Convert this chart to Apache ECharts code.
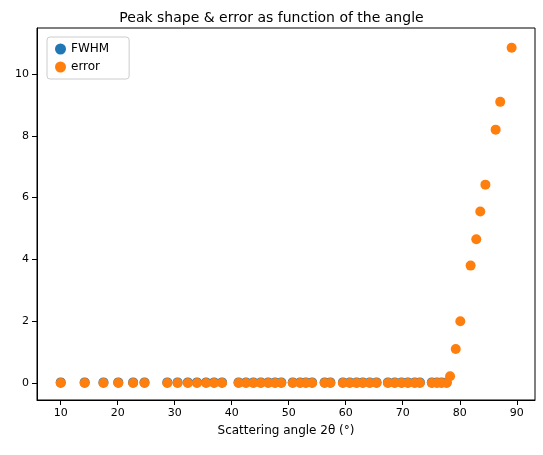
<!DOCTYPE html><html><head><meta charset="utf-8"><script src="https://cdn.jsdelivr.net/npm/echarts@6/dist/echarts.min.js"></script></head><body style="margin:0"><div id="c" style="width:543px;height:455px"></div><script>
const angles=[10.0,14.2,17.5,20.1,22.7,24.7,28.7,30.5,32.3,33.9,35.5,36.9,38.3,41.2,42.5,43.8,45.1,46.4,47.6,48.7,50.7,52.0,53.0,54.1,56.3,57.3,59.5,60.7,61.9,63.0,64.2,65.4,67.4,68.6,69.8,70.9,72.1,73.0,75.1,76.0,76.8,77.7,78.3,79.3,80.1,81.9,82.9,83.6,84.5,86.3,87.1,89.1];
const errorVals=[0,0,0,0,0,0,0,0,0,0,0,0,0,0,0,0,0,0,0,0,0,0,0,0,0,0,0,0,0,0,0,0,0,0,0,0,0,0,0,0,0,0,0.22,1.1,2.0,3.8,4.65,5.55,6.42,8.2,9.1,10.85];
const fwhmVals=angles.slice(0,42).map(()=>0.02);
const ch=echarts.init(document.getElementById('c'));
const F='DejaVu Sans';
ch.setOption({animation:false,textStyle:{fontFamily:F},
title:{text:'Peak shape & error as function of the angle',left:'center',top:6,textStyle:{fontFamily:F,fontSize:14,fontWeight:'normal',color:'#000'}},
legend:{left:47,top:37,orient:'vertical',itemGap:6,borderColor:'#ccc',borderWidth:1,borderRadius:3,padding:[6,20,6,8],itemWidth:11,itemHeight:11,textStyle:{fontFamily:F,fontSize:12,color:'#000'},data:['FWHM','error']},
grid:{left:37,right:8,top:28,bottom:55,show:true,borderColor:'#000',borderWidth:1,backgroundColor:'transparent'},
xAxis:{type:'value',min:5.84,max:93.2,interval:10,name:'Scattering angle 2θ (°)',nameLocation:'middle',nameGap:25,nameTextStyle:{fontFamily:F,fontSize:12,color:'#000'},
axisLine:{onZero:false,lineStyle:{color:'#000'}},axisLabel:{color:'#000',fontSize:11,customValues:[10,20,30,40,50,60,70,80,90]},axisTick:{customValues:[10,20,30,40,50,60,70,80,90],lineStyle:{color:'#000'}},splitLine:{show:false}},
yAxis:{type:'value',min:-0.55,max:11.49,axisLine:{show:true,lineStyle:{color:'#000'}},axisTick:{show:true,customValues:[0,2,4,6,8,10],lineStyle:{color:'#000'}},axisLabel:{color:'#000',fontSize:11,customValues:[0,2,4,6,8,10]},splitLine:{show:false}},
series:[{name:'FWHM',type:'scatter',symbolSize:10,itemStyle:{color:'#1f77b4',opacity:1},data:fwhmVals.map((v,i)=>[angles[i],v])},
{name:'error',type:'scatter',symbolSize:10,itemStyle:{color:'#ff7f0e',opacity:1},data:errorVals.map((v,i)=>[angles[i],v])}]});
</script></body></html>
